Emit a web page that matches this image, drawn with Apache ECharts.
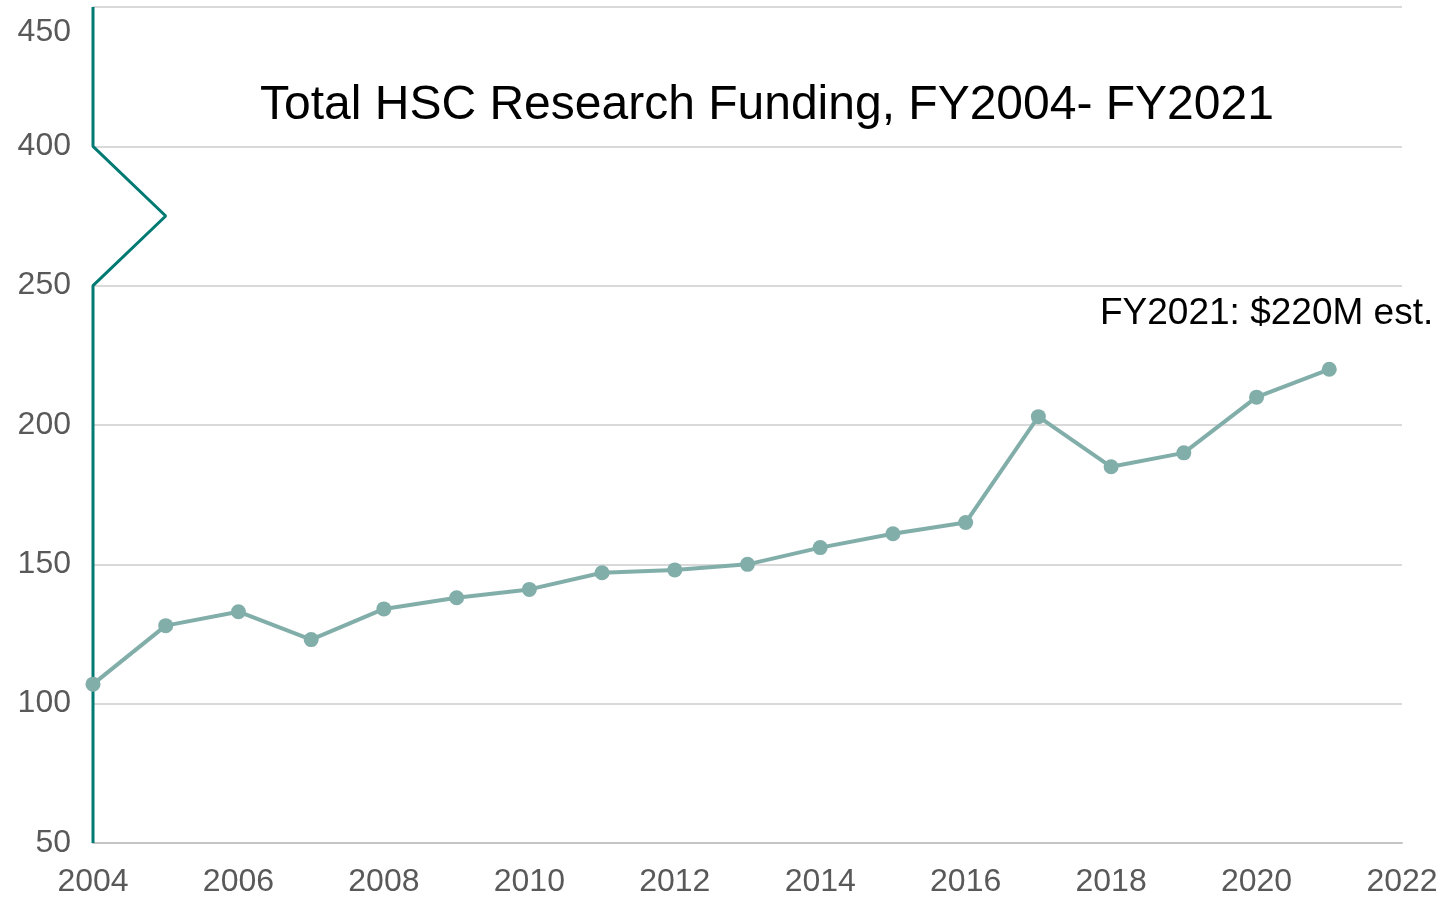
<!DOCTYPE html>
<html>
<head>
<meta charset="utf-8">
<script src="https://cdn.jsdelivr.net/npm/echarts@6/dist/echarts.min.js"></script>
<style>
  html, body { margin: 0; padding: 0; background: #fff; }
  #chart { width: 1439px; height: 897px; }
</style>
</head>
<body>
<div id="chart"></div>
<script>
// fiscal years and total research funding ($M)
let years = [2004, 2005, 2006, 2007, 2008, 2009, 2010, 2011, 2012, 2013, 2014, 2015, 2016, 2017, 2018, 2019, 2020, 2021];
let funding = [107, 128, 133, 123, 134, 138, 141, 147, 148, 150, 156, 161, 165, 203, 185, 190, 210, 220];

// broken y axis: the segment 250 → 400 is squeezed; above the break the axis shows +100
let breakShift = 100;
let axisBreakX = [2004, 2004, 2005, 2004, 2004];
let axisBreakY = [350, 300, 275, 250, 50];

let titleText = "Total HSC Research Funding, FY2004- FY2021";
let noteText = "FY2021: $220M est.";

function yLabel(v) {
    if (v >= 350) return "{top|" + (v + breakShift) + "}";
    return v >= 300 ? String(v + breakShift) : String(v);
}

var myChart = echarts.init(document.getElementById("chart"));
myChart.setOption({
    animation: false,
    backgroundColor: "#fff",
    textStyle: { fontFamily: "Liberation Sans, Arial, sans-serif" },
    grid: { left: 93, right: 37, top: 7, bottom: 54, outerBoundsMode: "none" },
    xAxis: {
        type: "value",
        min: 2004,
        max: 2022,
        interval: 2,
        axisLine: { show: true, lineStyle: { color: "#c4c4c4", width: 2 } },
        axisTick: { show: false },
        splitLine: { show: false },
        axisLabel: {
            color: "#595959",
            fontSize: 32,
            margin: 23,
            formatter: v => String(v)
        }
    },
    yAxis: {
        type: "value",
        min: 50,
        max: 350,
        interval: 50,
        axisLine: { show: false },
        axisTick: { show: false },
        splitLine: { show: true, lineStyle: { color: "#d9d9d9", width: 2 } },
        axisLabel: {
            color: "#595959",
            fontSize: 32,
            margin: 22,
            formatter: yLabel,
            rich: {
                top: { fontSize: 32, color: "#595959", padding: [50, 0, 0, 0] }
            }
        }
    },
    graphic: [
        {
            type: "text",
            left: 260,
            top: 82,
            style: { text: titleText, fontSize: 48, fill: "#000", fontFamily: "Liberation Sans, Arial, sans-serif" }
        },
        {
            type: "text",
            left: 1100,
            top: 295,
            style: { text: noteText, fontSize: 37, fill: "#000", fontFamily: "Liberation Sans, Arial, sans-serif" }
        }
    ],
    series: [
        {
            type: "line",
            data: axisBreakX.map((x, i) => [x, axisBreakY[i]]),
            showSymbol: false,
            silent: true,
            lineStyle: { color: "#007a73", width: 3 },
            z: 3
        },
        {
            type: "line",
            data: years.map((y, i) => [y, funding[i]]),
            symbol: "circle",
            symbolSize: 15,
            itemStyle: { color: "#82aeaa" },
            lineStyle: { color: "#82aeaa", width: 4 },
            z: 4
        }
    ]
});
</script>
</body>
</html>
